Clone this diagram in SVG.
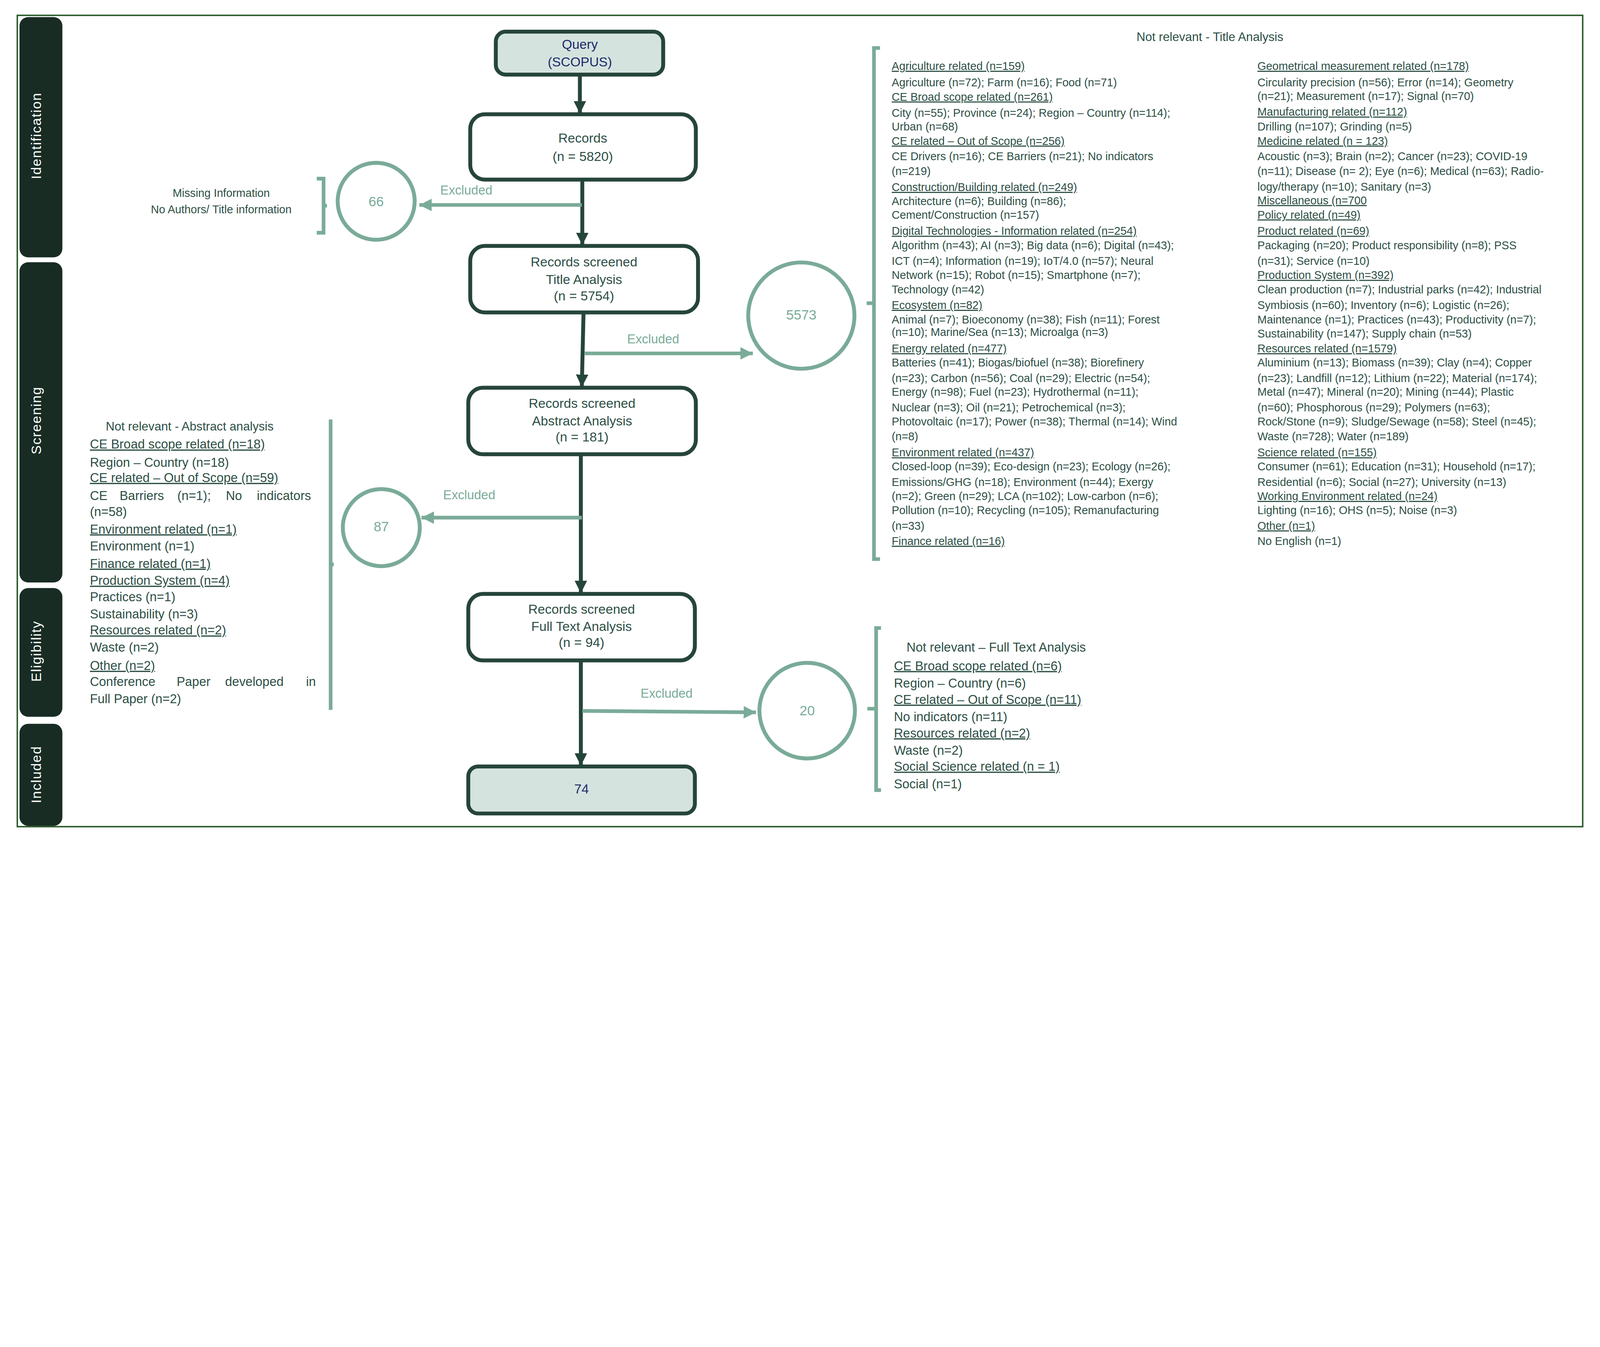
<svg xmlns="http://www.w3.org/2000/svg" width="6567" height="3448" viewBox="0 0 6567 3448" style="max-width:100%;height:auto">
<style>
text{font-family:"Liberation Sans",Arial,sans-serif;fill:#2d4f45}
.box{fill:#fff;stroke:#26453a;stroke-width:16}
.hl{fill:#d5e3de}
.bt{font-size:54px;text-anchor:middle}
.nv{fill:#1b2a6b}
.phase{fill:#182c24}
.pl{fill:#fff;font-size:56px;letter-spacing:3px;text-anchor:middle}
.circ{fill:#fff;stroke:#7aab98;stroke-width:16}
.cn{fill:#7aab98;font-size:56px;text-anchor:middle}
.ex{fill:#7aab98;font-size:52px}
.la{fill:none;stroke:#7aab98;stroke-width:15}
.da{fill:none;stroke:#26453a;stroke-width:16}
.br{fill:none;stroke:#7aab98;stroke-width:15}
.t46{font-size:46px}
.t52{font-size:52px}
.u{text-decoration:underline}
</style>
<defs>
<marker id="ah" viewBox="0 0 10 10" refX="10" refY="5" markerWidth="3.2" markerHeight="3.2" orient="auto" markerUnits="strokeWidth"><path d="M0,0L10,5L0,10z" fill="#26453a"/></marker>
<marker id="al" viewBox="0 0 10 10" refX="10" refY="5" markerWidth="3.4" markerHeight="3.4" orient="auto" markerUnits="strokeWidth"><path d="M0,0L10,5L0,10z" fill="#7aab98"/></marker>
</defs>
<rect x="71" y="63" width="6425" height="3329" fill="none" stroke="#2a5a2a" stroke-width="6"/>
<g id="phases">
<rect class="phase" x="80" y="70" width="176" height="986" rx="36"/>
<rect class="phase" x="80" y="1076" width="176" height="1314" rx="36"/>
<rect class="phase" x="80" y="2413" width="176" height="528" rx="36"/>
<rect class="phase" x="80" y="2970" width="176" height="419" rx="36"/>
<text class="pl" transform="translate(168,557) rotate(-90)">Identification</text>
<text class="pl" transform="translate(168,1725) rotate(-90)">Screening</text>
<text class="pl" transform="translate(168,2672) rotate(-90)">Eligibility</text>
<text class="pl" transform="translate(168,3178) rotate(-90)">Included</text>
</g>
<g id="connectors">
<line class="da" x1="2380" y1="306" x2="2380" y2="466" marker-end="url(#ah)"/>
<line class="da" x1="2390" y1="737" x2="2390" y2="1006" marker-end="url(#ah)"/>
<line class="da" x1="2395" y1="1282" x2="2388" y2="1588" marker-end="url(#ah)"/>
<line class="da" x1="2384" y1="1864" x2="2384" y2="2434" marker-end="url(#ah)"/>
<line class="da" x1="2384" y1="2710" x2="2384" y2="3142" marker-end="url(#ah)"/>
<line class="la" x1="2388" y1="841" x2="1721" y2="841" marker-end="url(#al)"/>
<line class="la" x1="2400" y1="1450" x2="3090" y2="1450" marker-end="url(#al)"/>
<line class="la" x1="2388" y1="2124" x2="1730" y2="2124" marker-end="url(#al)"/>
<line class="la" x1="2390" y1="2917" x2="3103" y2="2923" marker-end="url(#al)"/>
<text class="ex" x="1807" y="799">Excluded</text>
<text class="ex" x="2574" y="1409">Excluded</text>
<text class="ex" x="1819" y="2049">Excluded</text>
<text class="ex" x="2629" y="2863">Excluded</text>
</g>
<g id="query"><rect class="box hl" x="2035" y="130" width="687" height="176" rx="40"/>
<text class="bt nv" x="2380" y="201">Query</text><text class="bt nv" x="2380" y="272">(SCOPUS)</text></g>
<g id="records"><rect class="box" x="1930" y="469" width="926" height="268" rx="60"/>
<text class="bt" x="2392" y="585">Records</text><text class="bt" x="2392" y="661">(n = 5820)</text></g>
<g id="title"><rect class="box" x="1930" y="1009" width="935" height="273" rx="60"/>
<text class="bt" x="2397" y="1094">Records screened</text><text class="bt" x="2397" y="1165">Title Analysis</text><text class="bt" x="2397" y="1232">(n = 5754)</text></g>
<g id="abstract"><rect class="box" x="1922" y="1591" width="934" height="273" rx="60"/>
<text class="bt" x="2389" y="1674">Records screened</text><text class="bt" x="2389" y="1746">Abstract Analysis</text><text class="bt" x="2389" y="1812">(n = 181)</text></g>
<g id="fulltext"><rect class="box" x="1922" y="2437" width="930" height="273" rx="60"/>
<text class="bt" x="2387" y="2518">Records screened</text><text class="bt" x="2387" y="2589">Full Text Analysis</text><text class="bt" x="2387" y="2655">(n = 94)</text></g>
<g id="included"><rect class="box hl" x="1922" y="3145" width="930" height="193" rx="40"/>
<text class="bt nv" x="2387" y="3256">74</text></g>
<g id="c66"><circle class="circ" cx="1544" cy="826" r="158"/><text class="cn" x="1544" y="846">66</text></g>
<g id="c5573"><circle class="circ" cx="3289" cy="1295" r="218"/><text class="cn" x="3289" y="1312">5573</text></g>
<g id="c87"><circle class="circ" cx="1565" cy="2165" r="158"/><text class="cn" x="1565" y="2180">87</text></g>
<g id="c20"><circle class="circ" cx="3313" cy="2916" r="196"/><text class="cn" x="3313" y="2935">20</text></g>
<g id="missing">
<path class="br" d="M1300,733 H1328 V955 H1300 M1328,844 H1342"/>
<text class="t46" x="908" y="808" text-anchor="middle">Missing Information</text>
<text class="t46" x="908" y="875" text-anchor="middle">No Authors/ Title information</text>
</g>
<g id="abstractList">
<path class="br" d="M1357,1721 V2913 M1357,2316 H1370"/>
<text class="t52" x="434" y="1766" style="font-size:50px">Not relevant - Abstract analysis</text>
<text class="t52 u" x="369" y="1841">CE Broad scope related (n=18)</text>
<text class="t52" x="369" y="1915">Region – Country  (n=18)</text>
<text class="t52 u" x="369" y="1978">CE related – Out of Scope (n=59)</text>
<text class="t52" y="2052"><tspan x="369">CE</tspan><tspan x="491">Barriers</tspan><tspan x="728">(n=1);</tspan><tspan x="927">No</tspan><tspan x="1054">indicators</tspan></text>
<text class="t52" x="369" y="2118">(n=58)</text>
<text class="t52 u" x="369" y="2189">Environment related (n=1)</text>
<text class="t52" x="369" y="2259">Environment (n=1)</text>
<text class="t52 u" x="369" y="2330">Finance related (n=1)</text>
<text class="t52 u" x="369" y="2400">Production System (n=4)</text>
<text class="t52" x="369" y="2467">Practices (n=1)</text>
<text class="t52" x="369" y="2537">Sustainability (n=3)</text>
<text class="t52 u" x="369" y="2604">Resources related (n=2)</text>
<text class="t52" x="369" y="2674">Waste (n=2)</text>
<text class="t52 u" x="369" y="2749">Other (n=2)</text>
<text class="t52" y="2815"><tspan x="369">Conference</tspan><tspan x="725">Paper</tspan><tspan x="924">developed</tspan><tspan x="1256">in</tspan></text>
<text class="t52" x="369" y="2885">Full Paper (n=2)</text>
</g>
<g id="titleList">
<path class="br" d="M3612,197 H3587 V2294 H3612 M3587,1244 H3557"/>
<text x="4966" y="168" style="font-size:50px" text-anchor="middle">Not relevant - Title Analysis</text>
<g class="t46">
<text class="u" x="3660" y="287">Agriculture related (n=159)</text>
<text x="3660" y="354">Agriculture (n=72); Farm (n=16); Food (n=71)</text>
<text class="u" x="3660" y="413">CE Broad scope related (n=261)</text>
<text x="3660" y="479">City (n=55); Province (n=24); Region – Country  (n=114);</text>
<text x="3660" y="535">Urban (n=68)</text>
<text class="u" x="3660" y="594">CE related – Out of Scope (n=256)</text>
<text x="3660" y="658">CE Drivers (n=16); CE Barriers (n=21); No indicators</text>
<text x="3660" y="718">(n=219)</text>
<text class="u" x="3660" y="784">Construction/Building related (n=249)</text>
<text x="3660" y="842">Architecture (n=6); Building (n=86);</text>
<text x="3660" y="897">Cement/Construction (n=157)</text>
<text class="u" x="3660" y="964">Digital Technologies - Information related (n=254)</text>
<text x="3660" y="1023">Algorithm (n=43); AI (n=3); Big data (n=6); Digital (n=43);</text>
<text x="3660" y="1087">ICT (n=4); Information (n=19); IoT/4.0 (n=57); Neural</text>
<text x="3660" y="1145">Network (n=15); Robot (n=15); Smartphone (n=7);</text>
<text x="3660" y="1204">Technology (n=42)</text>
<text class="u" x="3660" y="1268">Ecosystem (n=82)</text>
<text x="3660" y="1328">Animal (n=7); Bioeconomy (n=38); Fish (n=11); Forest</text>
<text x="3660" y="1379">(n=10); Marine/Sea (n=13); Microalga (n=3)</text>
<text class="u" x="3660" y="1446">Energy related (n=477)</text>
<text x="3660" y="1503">Batteries (n=41); Biogas/biofuel (n=38); Biorefinery</text>
<text x="3660" y="1567">(n=23); Carbon (n=56); Coal (n=29); Electric (n=54);</text>
<text x="3660" y="1624">Energy (n=98); Fuel (n=23); Hydrothermal (n=11);</text>
<text x="3660" y="1688">Nuclear (n=3); Oil (n=21); Petrochemical (n=3);</text>
<text x="3660" y="1745">Photovoltaic (n=17); Power (n=38); Thermal (n=14); Wind</text>
<text x="3660" y="1806">(n=8)</text>
<text class="u" x="3660" y="1873">Environment related (n=437)</text>
<text x="3660" y="1930">Closed-loop (n=39); Eco-design (n=23); Ecology (n=26);</text>
<text x="3660" y="1994">Emissions/GHG (n=18); Environment (n=44); Exergy</text>
<text x="3660" y="2052">(n=2); Green (n=29); LCA (n=102); Low-carbon (n=6);</text>
<text x="3660" y="2109">Pollution (n=10); Recycling (n=105); Remanufacturing</text>
<text x="3660" y="2173">(n=33)</text>
<text class="u" x="3660" y="2236">Finance related (n=16)</text>
<text class="u" x="5161" y="287">Geometrical measurement related (n=178)</text>
<text x="5161" y="354">Circularity precision (n=56); Error (n=14); Geometry</text>
<text x="5161" y="411">(n=21); Measurement (n=17); Signal (n=70)</text>
<text class="u" x="5161" y="475">Manufacturing related (n=112)</text>
<text x="5161" y="535">Drilling (n=107); Grinding (n=5)</text>
<text class="u" x="5161" y="594">Medicine related (n = 123)</text>
<text x="5161" y="658">Acoustic (n=3); Brain (n=2); Cancer (n=23); COVID-19</text>
<text x="5161" y="718">(n=11); Disease (n= 2); Eye (n=6); Medical (n=63); Radio-</text>
<text x="5161" y="782">logy/therapy (n=10); Sanitary (n=3)</text>
<text class="u" x="5161" y="838">Miscellaneous (n=700</text>
<text class="u" x="5161" y="897">Policy related (n=49)</text>
<text class="u" x="5161" y="964">Product related (n=69)</text>
<text x="5161" y="1023">Packaging (n=20); Product responsibility (n=8); PSS</text>
<text x="5161" y="1087">(n=31); Service (n=10)</text>
<text class="u" x="5161" y="1145">Production System (n=392)</text>
<text x="5161" y="1204">Clean production (n=7); Industrial parks (n=42); Industrial</text>
<text x="5161" y="1268">Symbiosis (n=60); Inventory (n=6); Logistic (n=26);</text>
<text x="5161" y="1328">Maintenance (n=1); Practices (n=43); Productivity (n=7);</text>
<text x="5161" y="1385">Sustainability (n=147); Supply chain (n=53)</text>
<text class="u" x="5161" y="1446">Resources related (n=1579)</text>
<text x="5161" y="1503">Aluminium (n=13); Biomass (n=39); Clay (n=4); Copper</text>
<text x="5161" y="1567">(n=23); Landfill (n=12); Lithium (n=22); Material (n=174);</text>
<text x="5161" y="1624">Metal (n=47); Mineral (n=20); Mining (n=44); Plastic</text>
<text x="5161" y="1688">(n=60); Phosphorous (n=29); Polymers (n=63);</text>
<text x="5161" y="1745">Rock/Stone (n=9); Sludge/Sewage (n=58); Steel (n=45);</text>
<text x="5161" y="1806">Waste (n=728); Water (n=189)</text>
<text class="u" x="5161" y="1873">Science related (n=155)</text>
<text x="5161" y="1930">Consumer (n=61); Education (n=31); Household (n=17);</text>
<text x="5161" y="1994">Residential (n=6); Social (n=27); University (n=13)</text>
<text class="u" x="5161" y="2052">Working Environment related (n=24)</text>
<text x="5161" y="2109">Lighting (n=16); OHS (n=5); Noise (n=3)</text>
<text class="u" x="5161" y="2173">Other (n=1)</text>
<text x="5161" y="2236">No English (n=1)</text>
</g>
</g>
<g id="fullList">
<path class="br" d="M3616,2577 H3596 V3242 H3616 M3596,2908 H3560"/>
<text class="t52" x="3721" y="2673">Not relevant – Full Text Analysis</text>
<text class="t52 u" x="3669" y="2750">CE Broad scope related (n=6)</text>
<text class="t52" x="3669" y="2821">Region – Country  (n=6)</text>
<text class="t52 u" x="3669" y="2888">CE related – Out of Scope (n=11)</text>
<text class="t52" x="3669" y="2959">No indicators (n=11)</text>
<text class="t52 u" x="3669" y="3026">Resources related (n=2)</text>
<text class="t52" x="3669" y="3097">Waste (n=2)</text>
<text class="t52 u" x="3669" y="3163">Social Science related (n = 1)</text>
<text class="t52" x="3669" y="3235">Social (n=1)</text>
</g>
</svg>
